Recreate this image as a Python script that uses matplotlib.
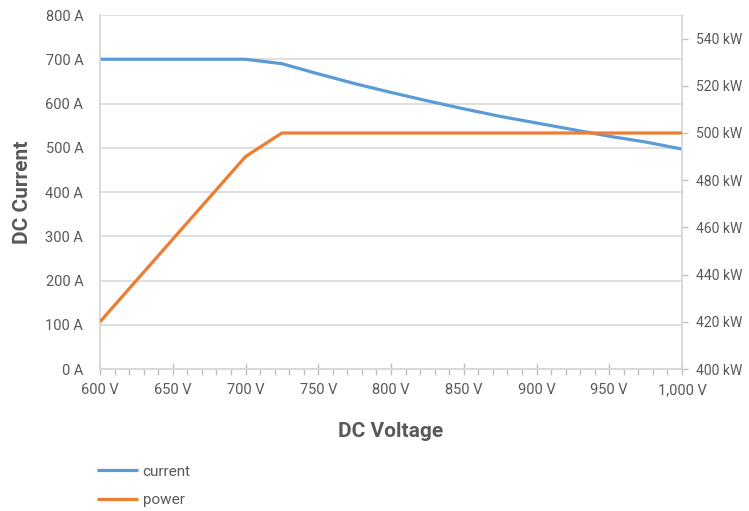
import matplotlib.pyplot as plt
from matplotlib.ticker import FuncFormatter, MultipleLocator

plt.rcParams['font.family'] = ['Roboto', 'DejaVu Sans']

# data
voltage = [600, 625, 650, 675, 700, 725, 750, 775, 800, 825, 850, 875, 900, 925, 950, 975, 1000]
current = [700, 700, 700, 700, 700, 690, 667, 645, 625, 606, 588, 571, 556, 541, 526, 513, 497]
power = [420, 437.5, 455, 472.5, 490, 500, 500, 500, 500, 500, 500, 500, 500, 500, 500, 500, 500]

blue = '#5B9BD5'
orange = '#ED7D31'
txt = '#595959'
gridc = '#D9D9D9'

fig = plt.figure(figsize=(7.49, 5.11), dpi=100)
ax = fig.add_axes([100/749, 1-369/511, 582/749, 354/511])
ax2 = ax.twinx()

l1, = ax.plot(voltage, current, color=blue, lw=2.3, solid_capstyle='butt', zorder=3)
l2, = ax2.plot(voltage, power, color=orange, lw=2.3, solid_capstyle='butt', zorder=3)

ax.set_xlim(600, 1000)
ax.set_ylim(0, 800)
ax2.set_ylim(400, 550)

ax.xaxis.set_major_locator(MultipleLocator(50))
ax.xaxis.set_minor_locator(MultipleLocator(10))
ax.yaxis.set_major_locator(MultipleLocator(100))
ax2.set_yticks(range(400, 541, 20))

ax.xaxis.set_major_formatter(FuncFormatter(lambda v, p: f'{v:,.0f} V'))
ax.yaxis.set_major_formatter(FuncFormatter(lambda v, p: f'{v:.0f} A'))
ax2.yaxis.set_major_formatter(FuncFormatter(lambda v, p: f'{v:.0f} kW'))

ax.grid(axis='y', color=gridc, lw=1.2)
ax.set_axisbelow(True)

for a in (ax, ax2):
    for s in a.spines.values():
        s.set_color(gridc)
        s.set_linewidth(1.2)
    a.spines['top'].set_visible(False)

ax.tick_params(axis='x', which='major', direction='inout', length=8, width=1, color='#BFBFBF',
               labelsize=10.5, labelcolor=txt, pad=6)
ax.tick_params(axis='x', which='minor', direction='out', length=4, width=1, color='#BFBFBF')
ax.tick_params(axis='y', length=0, labelsize=10.5, labelcolor=txt, pad=12)
ax2.tick_params(axis='y', direction='out', length=4, width=1, color='#BFBFBF',
                labelsize=10, labelcolor=txt, pad=6)

ax.set_xlabel('DC Voltage', fontsize=15, fontweight='bold', color=txt, labelpad=18)
ax.set_ylabel('DC Current', fontsize=15, fontweight='bold', color=txt, labelpad=10)

fig.legend([l1, l2], ['current', 'power'], loc='upper left',
           bbox_to_anchor=(83/749, 1-451/511), frameon=False, fontsize=11,
           labelcolor=txt, handlelength=2.7, handletextpad=0.3, labelspacing=0.95)

fig.savefig('out.png', dpi=100)
